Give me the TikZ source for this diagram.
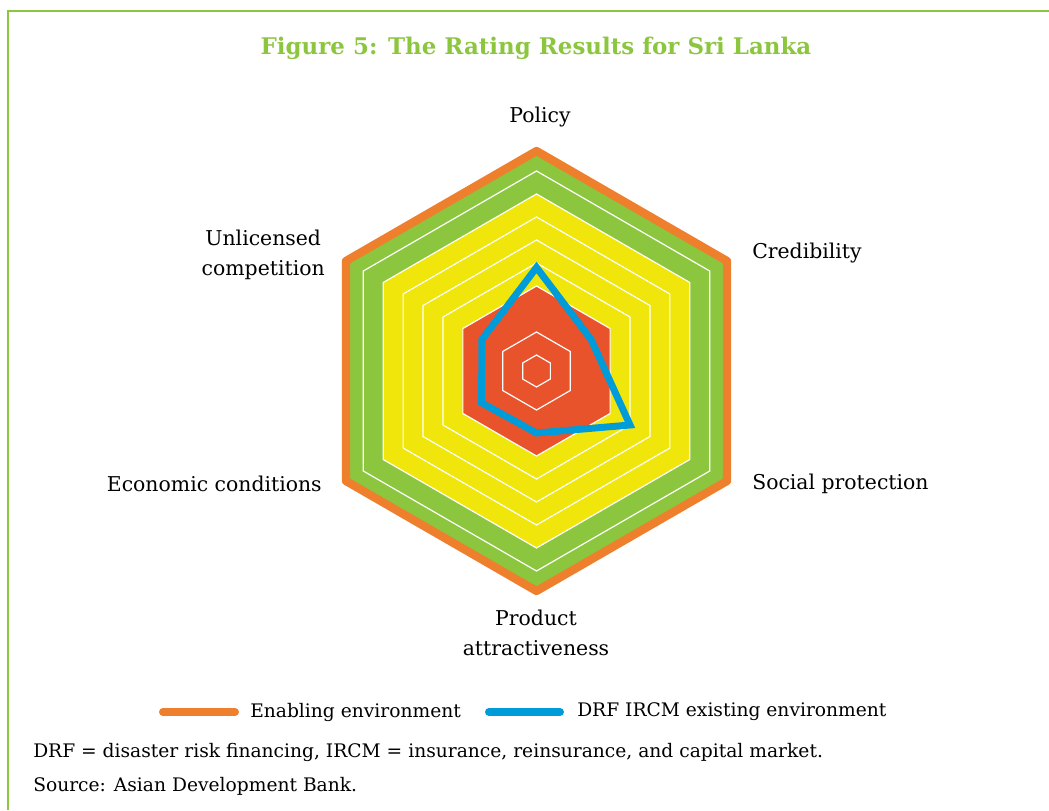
\documentclass[tikz,border=0pt]{standalone}
\usepackage{fontspec}
\setmainfont{DejaVu Serif}
\usetikzlibrary{positioning}

\definecolor{adbgreen}{HTML}{8CC63F}
\definecolor{ringyellow}{HTML}{F0E60C}
\definecolor{ringred}{HTML}{E9532C}
\definecolor{enablingorange}{HTML}{EE7F2D}
\definecolor{existingblue}{HTML}{009BD9}

\tikzset{
  axislabel/.style={font=\fontsize{15.3}{22.5}\selectfont, inner sep=0pt, align=center},
  notetext/.style={font=\fontsize{14}{20}\selectfont, inner sep=0pt, anchor=west},
  charttitle/.style={font=\bfseries\fontsize{17.2}{21}\selectfont, text=adbgreen, inner sep=0pt},
  enabling/.style={draw=enablingorange, line width=6.2pt, line join=round},
  existing/.style={draw=existingblue, line width=5.2pt, line join=miter},
  gridline/.style={draw=white, line width=0.9pt}
}

\begin{document}
\begin{tikzpicture}[x=0.75pt, y=-0.75pt]
  \useasboundingbox (0,0) rectangle (1049,810);

  % frame and title
  \draw[adbgreen, line width=1.2pt] (8,810) -- (8,11) -- (1049,11);
  \node[charttitle] (title) at (536,48) {Figure 5: The Rating Results for Sri Lanka};

  % rings of the chart
  \begin{scope}[shift={(536.5,371)}, x=0.75pt, y=0.75pt]
    \fill[adbgreen] (90:220) \foreach \a in {30,-30,-90,-150,150} {-- (\a:220)} -- cycle;
    \fill[ringyellow] (90:177) \foreach \a in {30,-30,-90,-150,150} {-- (\a:177)} -- cycle;
    \fill[ringred] (90:85) \foreach \a in {30,-30,-90,-150,150} {-- (\a:85)} -- cycle;
    \foreach \r in {16,39,85,108,131,154,177,200}
      \draw[gridline] (90:\r) \foreach \a in {30,-30,-90,-150,150} {-- (\a:\r)} -- cycle;
    \draw[enabling] (90:220) \foreach \a in {30,-30,-90,-150,150} {-- (\a:220)} -- cycle;

    % existing environment
    \coordinate (pol) at (90:103.5);
    \coordinate (cre) at (30:63);
    \coordinate (soc) at (-30:108);
    \coordinate (pro) at (-90:62);
    \coordinate (eco) at (-150:63.5);
    \coordinate (unl) at (150:63);
    \draw[existing] (pol) -- (cre) -- (soc) -- (pro) -- (eco) -- (unl) -- cycle;
  \end{scope}

  % axis labels
  \node[axislabel] (policy) at (540,117) {Policy};
  \node[axislabel, anchor=west] (credibility) at (752,253) {Credibility};
  \node[axislabel, anchor=west] (social) at (752,484) {Social protection};
  \node[axislabel] (product) at (536,633) {Product\\attractiveness};
  \node[axislabel, anchor=east] (economic) at (322,484) {Economic conditions};
  \node[axislabel, anchor=east] (unlicensed) at (325,255) {Unlicensed\\competition};

  % legend
  \coordinate (orangeA) at (163,712);
  \coordinate (orangeB) at (235,712);
  \node[notetext] (enablingtext) at (250,712) {Enabling environment};
  \coordinate (blueA) at (489,712);
  \coordinate (blueB) at (560,712);
  \node[notetext] (existingtext) at (577,712) {DRF IRCM existing environment};
  \draw[enablingorange, line width=6pt, line cap=round] (orangeA) -- (orangeB);
  \draw[existingblue, line width=6pt, line cap=round] (blueA) -- (blueB);

  % notes
  \node[notetext] (abbrev) at (33,752) {DRF = disaster risk financing, IRCM = insurance, reinsurance, and capital market.};
  \node[notetext] (source) at (33,786) {Source: Asian Development Bank.};
\end{tikzpicture}
\end{document}
